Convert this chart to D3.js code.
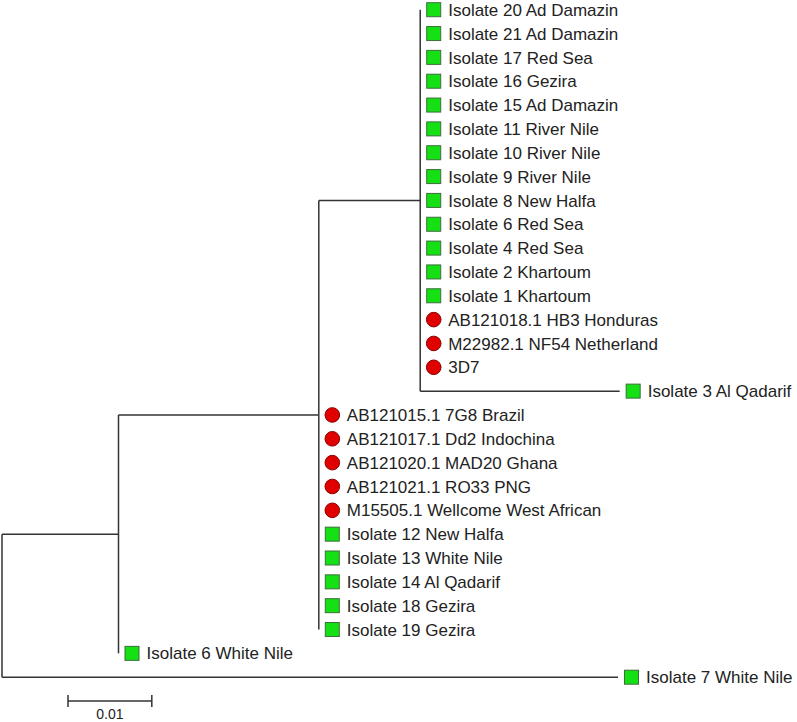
<!doctype html>
<html>
<head>
<script type='text/javascript' src='https://d3js.org/d3.v7.min.js'></script>
<style>
body { margin:0; background:#fff; }
text { font-family: Arial, 'Liberation Sans', sans-serif; font-size:17px; fill:#222; }
</style>
</head>
<body>
<script>
var width = 797, height = 722;

// inner nodes of the tree (id, parent, branch length)
var innerIds     = ['root', 'A', 'B', 'C'];
var innerParents = [null, 'root', 'A', 'B'];
var innerLengths = [0, 0.0139, 0.0239, 0.0121];

// leaves in drawing order
var leafNames = [
 'Isolate 20 Ad Damazin', 'Isolate 21 Ad Damazin', 'Isolate 17 Red Sea', 'Isolate 16 Gezira',
 'Isolate 15 Ad Damazin', 'Isolate 11 River Nile', 'Isolate 10 River Nile', 'Isolate 9 River Nile',
 'Isolate 8 New Halfa', 'Isolate 6 Red Sea', 'Isolate 4 Red Sea', 'Isolate 2 Khartoum',
 'Isolate 1 Khartoum', 'AB121018.1 HB3 Honduras', 'M22982.1 NF54 Netherland', '3D7',
 'Isolate 3 Al Qadarif',
 'AB121015.1 7G8 Brazil', 'AB121017.1 Dd2 Indochina', 'AB121020.1 MAD20 Ghana', 'AB121021.1 RO33 PNG',
 'M15505.1 Wellcome West African', 'Isolate 12 New Halfa', 'Isolate 13 White Nile',
 'Isolate 14 Al Qadarif', 'Isolate 18 Gezira', 'Isolate 19 Gezira',
 'Isolate 6 White Nile', 'Isolate 7 White Nile'
];
var leafParents = [
 'C','C','C','C','C','C','C','C','C','C','C','C','C','C','C','C',
 'C',
 'B','B','B','B','B','B','B','B','B','B',
 'A', 'root'
];
var leafLengths = [
 0,0,0,0,0,0,0,0,0,0,0,0,0,0,0,0,
 0.0238,
 0,0,0,0,0,0,0,0,0,0,
 0, 0.0735
];
// 'iso' = Sudan isolate (green square), 'ref' = reference strain (red circle)
var leafKinds = [
 'iso','iso','iso','iso','iso','iso','iso','iso','iso','iso','iso','iso','iso','ref','ref','ref',
 'iso',
 'ref','ref','ref','ref','ref','iso','iso','iso','iso','iso',
 'iso','iso'
];
var scaleValue = 0.01;

// build table for stratify
var rows = innerIds.map(function(id, i) {
 return {id: id, parent: innerParents[i], len: innerLengths[i]};
}).concat(leafNames.map(function(n, i) {
 return {id: n, parent: leafParents[i], len: leafLengths[i], kind: leafKinds[i]};
}));

var root = d3.stratify().id(function(d){return d.id}).parentId(function(d){return d.parent})(rows);

// cumulative distance from root
root.each(function(d) {
 d.dist = d.parent ? d.parent.dist + d.data.len : 0;
});

var leaves = root.leaves();
var x = d3.scaleLinear().domain([0, 0.0735]).range([2, 618]);
var y = d3.scaleLinear().domain([0, leaves.length - 1]).range([9.7, 677.2]);

leaves.forEach(function(d, i) { d.py = y(i); });
root.eachAfter(function(d) {
 if (d.children) d.py = (d.children[0].py + d.children[d.children.length - 1].py) / 2;
});

var svg = d3.select('body').append('svg').attr('width', width).attr('height', height);

var lineColor = '#333', lineW = 1.5;

// horizontal branches
svg.selectAll('line.h')
 .data(root.descendants().filter(function(d){return d.parent && d.data.len > 0}))
 .join('line')
 .attr('class', 'h')
 .attr('x1', function(d){return x(d.parent.dist)})
 .attr('x2', function(d){return x(d.dist)})
 .attr('y1', function(d){return d.py})
 .attr('y2', function(d){return d.py})
 .attr('stroke', lineColor).attr('stroke-width', lineW);

// vertical connectors
svg.selectAll('line.v')
 .data(root.descendants().filter(function(d){return d.children}))
 .join('line')
 .attr('class', 'v')
 .attr('x1', function(d){return x(d.dist)})
 .attr('x2', function(d){return x(d.dist)})
 .attr('y1', function(d){return d.children[0].py})
 .attr('y2', function(d){return d.children[d.children.length - 1].py})
 .attr('stroke', lineColor).attr('stroke-width', lineW);

// leaf markers and labels
var leafG = svg.selectAll('g.leaf')
 .data(leaves)
 .join('g')
 .attr('class', 'leaf')
 .attr('transform', function(d){return 'translate(' + x(d.dist) + ',' + d.py + ')'});

leafG.filter(function(d){return d.data.kind === 'iso'})
 .append('rect')
 .attr('x', 6.5).attr('y', -7).attr('width', 14).attr('height', 14)
 .attr('fill', '#14e014').attr('stroke', '#3c6e3c').attr('stroke-width', 1);

leafG.filter(function(d){return d.data.kind === 'ref'})
 .append('circle')
 .attr('cx', 13.5).attr('cy', 0).attr('r', 7.3)
 .attr('fill', '#e00000').attr('stroke', '#8a0000').attr('stroke-width', 1);

leafG.append('text')
 .attr('x', 28)
 .attr('dy', '0.36em')
 .text(function(d){return d.id});

// scale bar
var sb = svg.append('g').attr('transform', 'translate(68,701)');
var sbLen = x(scaleValue) - x(0);
sb.append('line').attr('x1', 0).attr('x2', sbLen).attr('y1', 0).attr('y2', 0)
 .attr('stroke', lineColor).attr('stroke-width', lineW);
sb.selectAll('line.tick').data([0, sbLen]).join('line')
 .attr('class', 'tick')
 .attr('x1', function(d){return d}).attr('x2', function(d){return d})
 .attr('y1', -6).attr('y2', 6)
 .attr('stroke', lineColor).attr('stroke-width', lineW);
sb.append('text')
 .attr('x', sbLen / 2).attr('y', 13).attr('dy', '0.36em')
 .attr('text-anchor', 'middle')
 .style('font-size', '14px')
 .text(scaleValue);
</script>
</body>
</html>
